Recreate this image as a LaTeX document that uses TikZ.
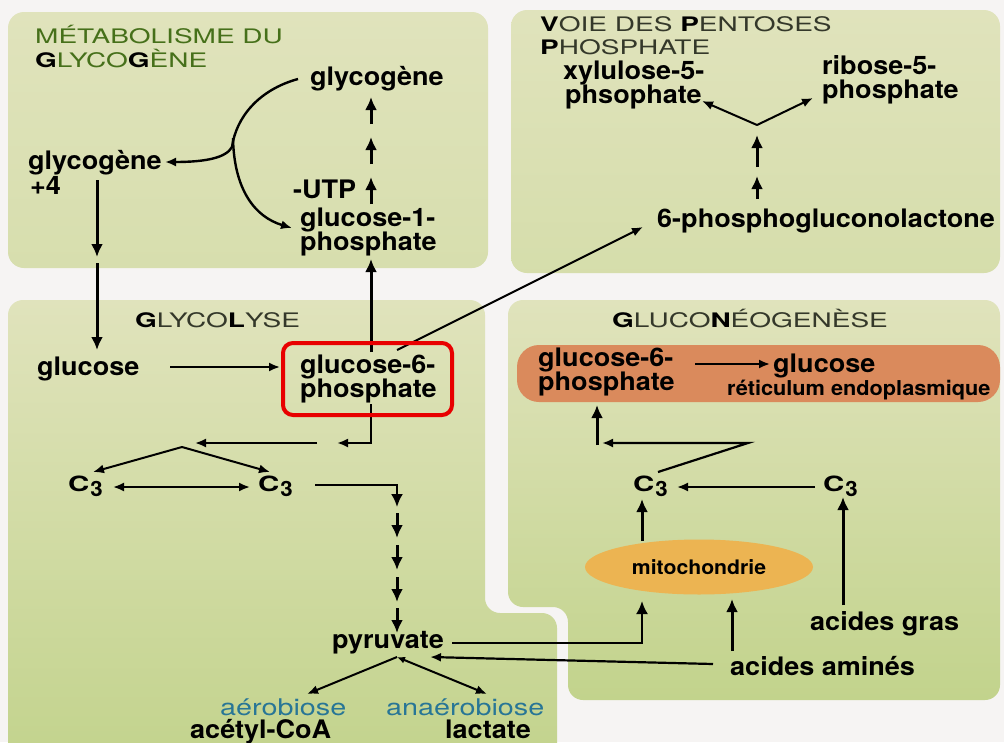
\documentclass[tikz,border=0pt]{standalone}
\usepackage{fontspec}
\setmainfont{TeX Gyre Heros}[FakeStretch=1.06]
\newfontfamily\titlefont[FakeStretch=1.4]{TeX Gyre Heros}
\newfontfamily\widefont[FakeStretch=1.25]{TeX Gyre Heros}
\usetikzlibrary{arrows.meta,shapes.geometric}
\definecolor{bgc}{RGB}{246,244,243}
\definecolor{ptop}{RGB}{224,227,188}
\definecolor{pbot}{RGB}{194,211,140}
\definecolor{ttlgreen}{RGB}{70,112,26}
\definecolor{ttlgray}{RGB}{52,56,42}
\definecolor{band}{RGB}{218,138,92}
\definecolor{mito}{RGB}{236,180,82}
\definecolor{bluetxt}{RGB}{40,118,150}
\definecolor{redbox}{RGB}{232,0,0}
\newcommand{\bk}[1]{{\bfseries\color{black}#1}}
\newcommand{\cthr}{{\titlefont C}\kern1pt\raisebox{-5pt}{3}}
\tikzset{
 lbl/.style={font=\fontsize{25.5}{24}\selectfont\bfseries, inner sep=0pt, anchor=base west},
 sml/.style={font=\fontsize{20.5}{21}\selectfont\bfseries, inner sep=0pt, anchor=base west},
 blu/.style={font=\widefont\fontsize{23}{23}\selectfont, text=bluetxt, inner sep=0pt, anchor=base west},
 ttl/.style={font=\titlefont\fontsize{20}{24}\selectfont, text=ttlgray, inner sep=0pt, anchor=base west},
 cthree/.style={font=\fontsize{21}{21}\selectfont\bfseries, inner sep=0pt, anchor=base west},
 arr/.style={line width=3pt, -{Latex[length=13pt,width=12pt]}},
 tarr/.style={line width=2pt, -{Latex[length=11pt,width=9pt]}},
 panel/.style={top color=ptop, bottom color=pbot, rounded corners=15pt},
}
\begin{document}
\begin{tikzpicture}[x=1pt,y=-1pt]
\useasboundingbox (0,0) rectangle (1004,742);
\fill[bgc] (0,0) rectangle (1004,742);
% panels
\shade[top color=ptop, bottom color=ptop!70!pbot, rounded corners=16pt] (8,12) rectangle (488,268);
\shade[top color=ptop, bottom color=ptop!65!pbot, rounded corners=16pt] (511,10) rectangle (1000,273);
\shade[panel] (8,300) -- (485,300) -- (485,613) -- (557,613) -- (557,770) -- (8,770) -- cycle;
\shade[panel] (508,300) -- (1000,300) -- (1000,700) -- (568,700) -- (568,607) -- (508,607) -- cycle;
\fill[band, rounded corners=22pt] (517,345) rectangle (1000,402);

% titles
\node[ttl, text=ttlgreen] (t1a) at (35,43) {MÉTABOLISME DU};
\node[ttl, text=ttlgreen] (t1b) at (35,67) {\bk{G}LYCO\bk{G}ÈNE};
\node[ttl] (t2a) at (540,31) {\bk{V}OIE DES \bk{P}ENTOSES};
\node[ttl] (t2b) at (540,54) {\bk{P}HOSPHATE};
\node[ttl] (t3) at (135,327) {\bk{G}LYCO\bk{L}YSE};
\node[ttl] (t4) at (612,327) {\bk{G}LUCO\bk{N}ÉOGENÈSE};

% labels
\node[lbl] (glyT) at (310,85) {glycogène};
\node[lbl] (glyL) at (28,169) {glycogène};
\node[lbl] (plus4) at (30,194) {+4};
\node[lbl] (utp) at (293,198) {-UTP};
\node[lbl] (g1pA) at (300,226) {glucose-1-};
\node[lbl] (g1pB) at (300,250) {phosphate};
\node[lbl] (xylA) at (563,79) {xylulose-5-};
\node[lbl] (xylB) at (565,103) {phsophate};
\node[lbl] (ribA) at (822,74) {ribose-5-};
\node[lbl] (ribB) at (822,98) {phosphate};
\node[lbl] (pgl) at (657,227) {6-phosphogluconolactone};
\node[lbl] (glcL) at (37,375) {glucose};
\node[lbl] (g6pA) at (300,373) {glucose-6-};
\node[lbl] (g6pB) at (300,397) {phosphate};
\node[cthree] (c3a) at (68,491) {\cthr};
\node[cthree] (c3b) at (258,491) {\cthr};
\node[lbl] (pyr) at (332,648) {pyruvate};
\node[blu] (aer) at (220,715) {aérobiose};
\node[lbl] (acoa) at (190,738) {acétyl-CoA};
\node[blu] (anaer) at (386,715) {anaérobiose};
\node[lbl] (lac) at (445,738) {lactate};
\node[lbl] (g6pC) at (538,366) {glucose-6-};
\node[lbl] (g6pD) at (538,390) {phosphate};
\node[lbl] (glcR) at (773,372) {glucose};
\node[sml] (ret) at (727,395) {réticulum endoplasmique};
\node[cthree] (c3c) at (633,491) {\cthr};
\node[cthree] (c3d) at (823,491) {\cthr};
\node[ellipse, fill=mito, minimum width=228pt, minimum height=55pt, inner sep=0pt, font=\fontsize{20}{20}\selectfont\bfseries] (mito) at (699,567) {mitochondrie};
\node[lbl] (agras) at (810,630) {acides gras};
\node[lbl] (aamin) at (730,675) {acides aminés};

% coordinates
\coordinate (cA) at (298,79);
\coordinate (jn) at (232,147);
\coordinate (tipL) at (165,162);
\coordinate (jn2) at (233,138);
\coordinate (tipG1) at (292,228);
\coordinate (u1s) at (371,124); \coordinate (u1e) at (371,97);
\coordinate (u2s) at (371,164); \coordinate (u2e) at (371,137);
\coordinate (u3s) at (371,204); \coordinate (u3e) at (371,177);
\coordinate (d1s) at (97,180); \coordinate (d1e) at (97,257);
\coordinate (d2s) at (97,263); \coordinate (d2e) at (97,350);
\coordinate (vg) at (371,352); \coordinate (vge) at (371,259);
\coordinate (gl1) at (170,367); \coordinate (gl2) at (280,367);
\coordinate (pg1) at (397,350); \coordinate (pg2) at (643,227);
\coordinate (p1s) at (757,199); \coordinate (p1e) at (757,176);
\coordinate (p2s) at (757,167); \coordinate (p2e) at (757,135);
\coordinate (yv) at (757,125); \coordinate (yl) at (702,101); \coordinate (yr) at (813,98);
\coordinate (g6d1) at (371,404); \coordinate (g6d2) at (371,443); \coordinate (g6d3) at (337,443);
\coordinate (h1s) at (317,443); \coordinate (h1e) at (195,443);
\coordinate (fv) at (182,447); \coordinate (fl) at (93,472); \coordinate (fr) at (270,472);
\coordinate (cab1) at (113,487); \coordinate (cab2) at (250,487);
\coordinate (cr1) at (315,485); \coordinate (cr2) at (397,485); \coordinate (cr3) at (397,507);
\coordinate (k1s) at (397,513); \coordinate (k1e) at (397,538);
\coordinate (k2s) at (397,545); \coordinate (k2e) at (397,570);
\coordinate (k3s) at (397,577); \coordinate (k3e) at (397,602);
\coordinate (k4s) at (397,608); \coordinate (k4e) at (397,633);
\coordinate (pr1) at (452,643); \coordinate (pr2) at (642,643); \coordinate (pr3) at (642,601);
\coordinate (aa1) at (713,664); \coordinate (aa2) at (430,657);
\coordinate (pv) at (397,657); \coordinate (pl) at (307,694); \coordinate (prr) at (487,694);
\coordinate (gb1) at (695,364); \coordinate (gb2) at (770,364);
\coordinate (z1) at (658,472); \coordinate (z2) at (748,443); \coordinate (z3) at (602,443);
\coordinate (w1) at (597,445); \coordinate (w2) at (597,405);
\coordinate (cc1) at (815,487); \coordinate (cc2) at (677,487);
\coordinate (m1) at (642,541); \coordinate (m2) at (642,499);
\coordinate (ag1) at (843,605); \coordinate (ag2) at (843,497);
\coordinate (am1) at (732,651); \coordinate (am2) at (732,599);

% connectors: glycogen metabolism
\draw[tarr, line width=2.4pt] (cA) .. controls (258,90) and (236,118) .. (jn) .. controls (226,158) and (205,162) .. (tipL);
\draw[tarr, line width=2.4pt] (jn2) .. controls (234,190) and (255,217) .. (tipG1);
\draw[arr] (u1s) -- (u1e);
\draw[arr] (u2s) -- (u2e);
\draw[arr] (u3s) -- (u3e);
\draw[arr] (d1s) -- (d1e);
\draw[arr] (d2s) -- (d2e);
\draw[arr] (vg) -- (vge);
\draw[tarr] (gl1) -- (gl2);
\draw[tarr] (pg1) -- (pg2);
% pentoses
\draw[arr] (p1s) -- (p1e);
\draw[arr] (p2s) -- (p2e);
\draw[tarr] (yv) -- (yl);
\draw[tarr] (yv) -- (yr);
% glycolyse
\draw[tarr, line width=2.4pt] (g6d1) -- (g6d2) -- (g6d3);
\draw[tarr] (h1s) -- (h1e);
\draw[tarr] (fv) -- (fl);
\draw[tarr] (fv) -- (fr);
\draw[tarr, {Latex[length=11pt,width=9pt]}-{Latex[length=11pt,width=9pt]}] (cab1) -- (cab2);
\draw[arr, line width=2.2pt] (cr1) -- (cr2) -- (cr3);
\draw[arr] (k1s) -- (k1e);
\draw[arr] (k2s) -- (k2e);
\draw[arr] (k3s) -- (k3e);
\draw[arr] (k4s) -- (k4e);
\draw[arr, line width=2.2pt] (pr1) -- (pr2) -- (pr3);
\draw[tarr, line width=2.2pt] (aa1) -- (aa2);
\draw[tarr] (pv) -- (pl);
\draw[tarr, {Latex[length=8pt,width=7pt]}-{Latex[length=11pt,width=9pt]}] (pv) -- (prr);
% gluconeogenese
\draw[tarr] (gb1) -- (gb2);
\draw[tarr, line width=2.2pt] (z1) -- (z2) -- (z3);
\draw[arr] (w1) -- (w2);
\draw[tarr] (cc1) -- (cc2);
\draw[arr] (m1) -- (m2);
\draw[arr] (ag1) -- (ag2);
\draw[arr] (am1) -- (am2);

% highlight
\draw[redbox, line width=4pt, rounded corners=10pt] (283,343) rectangle (452,415);
\end{tikzpicture}
\end{document}
